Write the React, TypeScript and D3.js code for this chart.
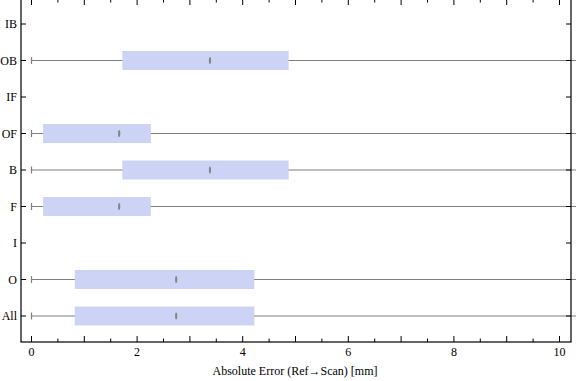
import React from "react";
import * as d3 from "d3";

const categories = ["IB", "OB", "IF", "OF", "B", "F", "I", "O", "All"];
const whiskerLow: (number | null)[] = [null, 0, null, 0, 0, 0, null, 0, 0];
const q1: (number | null)[] = [null, 1.72, null, 0.22, 1.72, 0.22, null, 0.82, 0.82];
const median: (number | null)[] = [null, 3.38, null, 1.66, 3.38, 1.66, null, 2.74, 2.74];
const q3: (number | null)[] = [null, 4.87, null, 2.26, 4.87, 2.26, null, 4.22, 4.22];
const whiskerHigh: (number | null)[] = [null, 12, null, 12, 12, 12, null, 12, 12];
const xTickLabels = [0, 2, 4, 6, 8, 10];
const xLabel = "Absolute Error (Ref\u2192Scan) [mm]";

const W = 576;
const H = 381;
const left = 21;
const right = 571;
const top = -1;
const bottom = 342;

export default function App() {
  const x = d3.scaleLinear().domain([0, 10]).range([31.5, 559.5]);
  const y = d3.scalePoint<string>().domain(categories).range([24, 316]);
  const majorTicks = d3.range(0, 11, 1);
  const minorTicks = d3.range(0.5, 10.5, 1);
  const boxH = 19;
  const font = "'Liberation Serif', 'DejaVu Serif', serif";

  return (
    <svg width={W} height={H} style={{ position: "absolute", left: 0, top: 0, background: "#fff" }}>
      {categories.map((c, i) => {
        const cy = y(c)!;
        if (q1[i] == null) return null;
        return (
          <g key={c}>
            <line x1={x(whiskerLow[i]!)} x2={x(whiskerHigh[i]!)} y1={cy} y2={cy} stroke="#7f7f7f" strokeWidth={1.2} />
            <line x1={x(whiskerLow[i]!)} x2={x(whiskerLow[i]!)} y1={cy - 3.5} y2={cy + 3.5} stroke="#7f7f7f" strokeWidth={1.2} />
            <rect x={x(q1[i]!)} y={cy - boxH / 2} width={x(q3[i]!) - x(q1[i]!)} height={boxH} fill="#ccd3f4" />
            <ellipse cx={x(median[i]!)} cy={cy} rx={1.1} ry={3.6} fill="#858585" />
          </g>
        );
      })}
      <rect x={left} y={top} width={right - left} height={bottom - top} fill="none" stroke="#000" strokeWidth={1.2} />
      {majorTicks.map((t) => (
        <g key={"M" + t}>
          <line x1={x(t)} x2={x(t)} y1={bottom} y2={bottom - 6} stroke="#000" />
          <line x1={x(t)} x2={x(t)} y1={top} y2={top + 6} stroke="#000" />
        </g>
      ))}
      {minorTicks.map((t) => (
        <g key={"m" + t}>
          <line x1={x(t)} x2={x(t)} y1={bottom} y2={bottom - 3.5} stroke="#000" />
          <line x1={x(t)} x2={x(t)} y1={top} y2={top + 3.5} stroke="#000" />
        </g>
      ))}
      {xTickLabels.map((t) => (
        <text key={"l" + t} x={x(t)} y={356} textAnchor="middle" fontFamily={font} fontSize={12} fill="#000">
          {t}
        </text>
      ))}
      {categories.map((c) => (
        <g key={"y" + c}>
          <line x1={left} x2={left + 5} y1={y(c)!} y2={y(c)!} stroke="#000" />
          <line x1={right} x2={right - 5} y1={y(c)!} y2={y(c)!} stroke="#000" />
          <text x={17} y={y(c)! + 4} textAnchor="end" fontFamily={font} fontSize={12} fill="#000">
            {c}
          </text>
        </g>
      ))}
      <text x={295} y={375} textAnchor="middle" fontFamily={font} fontSize={12} fill="#000">
        {xLabel}
      </text>
    </svg>
  );
}
